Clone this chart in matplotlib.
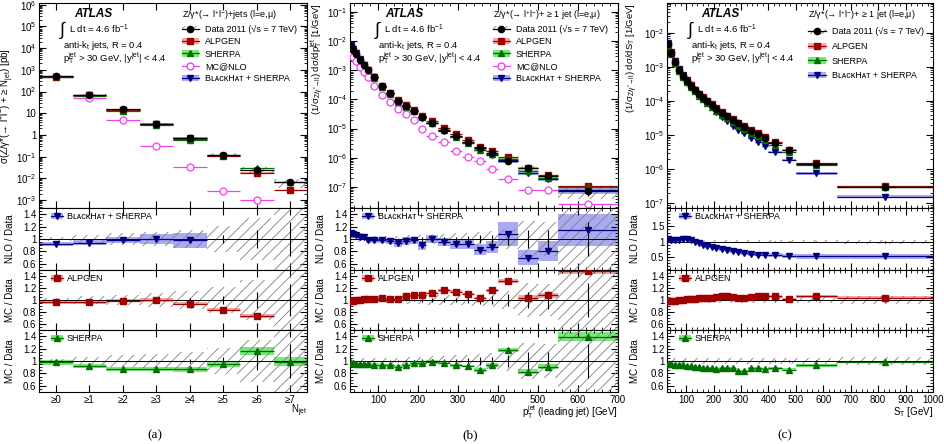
import numpy as np
import matplotlib
matplotlib.use("Agg")
import matplotlib.pyplot as plt
from matplotlib.patches import Patch
from matplotlib.lines import Line2D
from matplotlib.ticker import (FixedLocator, MultipleLocator, LogLocator,
                               NullFormatter, FuncFormatter, NullLocator)

plt.rcParams['font.family'] = ['Liberation Sans', 'DejaVu Sans']
plt.rcParams['mathtext.fontset'] = 'custom'
plt.rcParams['mathtext.rm'] = 'Liberation Sans'
plt.rcParams['mathtext.it'] = 'Liberation Sans:italic'
plt.rcParams['mathtext.bf'] = 'Liberation Sans:bold'
plt.rcParams['hatch.linewidth'] = 0.6
plt.rcParams['font.size'] = 7

# ---------------- (a) inclusive jet multiplicity
njet_labels = ['≥0', '≥1', '≥2', '≥3', '≥4', '≥5', '≥6', '≥7']
njet_data = [510, 70, 15, 3.2, 0.70, 0.123, 0.025, 0.0066]
njet_syst = [0.04, 0.07, 0.09, 0.11, 0.14, 0.20, 0.30, 0.45]
njet_stat = [0.002, 0.004, 0.008, 0.02, 0.04, 0.07, 0.14, 0.27]
njet_alpgen = [0.96, 0.96, 0.99, 1.00, 0.94, 0.84, 0.73, 0.45]
njet_alpgen_unc = [0.03, 0.03, 0.03, 0.03, 0.03, 0.03, 0.03, 0.03]
njet_sherpa = [0.98, 0.92, 0.87, 0.87, 0.87, 0.95, 1.16, 0.99]
njet_sherpa_unc = [0.04, 0.03, 0.03, 0.03, 0.04, 0.04, 0.06, 0.07]
njet_bh = [0.92, 0.94, 0.98, 1.00, 0.98]
njet_bh_unc = [0.03, 0.04, 0.05, 0.08, 0.12]
njet_mcnlo = [np.nan, 49, 4.9, 0.32, 0.033, 0.0027, 0.0010, np.nan]
njet_mcnlo_err = [0, 0.02, 0.03, 0.05, 0.10, 0.25, 0.40, 0]

# ---------------- (b) leading jet pT
pt_edges = [30, 35, 40, 50, 60, 70, 80, 100, 120, 140, 160, 180, 200, 220,
            250, 280, 310, 340, 370, 400, 450, 500, 550, 700]
pt_data = [6.8e-3, 4.8e-3, 3.6e-3, 2.3e-3, 1.5e-3, 1.0e-3, 5.8e-4, 2.8e-4,
           1.6e-4, 9.1e-5, 6.0e-5, 4.1e-5, 2.5e-5, 1.6e-5, 9.0e-6, 5.6e-6,
           3.6e-6, 2.2e-6, 1.45e-6, 7.8e-7, 4.3e-7, 2.3e-7, 7.0e-8]
pt_syst = [0.05, 0.05, 0.05, 0.05, 0.05, 0.05, 0.05, 0.05, 0.05, 0.05, 0.06,
           0.06, 0.06, 0.07, 0.07, 0.08, 0.08, 0.09, 0.10, 0.12, 0.25, 0.22, 0.45]
pt_stat = [0.003, 0.003, 0.003, 0.004, 0.005, 0.006, 0.006, 0.008, 0.01,
           0.013, 0.016, 0.02, 0.025, 0.03, 0.035, 0.04, 0.05, 0.06, 0.07,
           0.10, 0.14, 0.15, 0.28]
pt_bh = [1.09, 1.08, 1.06, 1.04, 1.03, 0.98, 0.98, 0.98, 0.97, 0.93, 0.97,
         0.98, 0.90, 1.00, 0.95, 0.92, 0.92, 0.83, 0.87, 1.08, 0.70, 0.81, 1.15]
pt_bh_unc = [0.05, 0.05, 0.05, 0.05, 0.05, 0.05, 0.05, 0.05, 0.05, 0.06, 0.06,
             0.06, 0.07, 0.07, 0.07, 0.08, 0.08, 0.09, 0.10, 0.20, 0.12, 0.16, 0.26]
pt_alpgen = [0.98, 0.99, 1.00, 1.00, 1.01, 1.02, 1.02, 1.04, 1.02, 1.02, 1.06,
             1.08, 1.08, 1.12, 1.16, 1.14, 1.10, 1.03, 1.16, 1.32, 1.04, 1.08, 1.48]
pt_alpgen_unc = [0.02] * 19 + [0.03, 0.04, 0.04, 0.05]
pt_sherpa = [0.96, 0.96, 0.95, 0.95, 0.95, 0.95, 0.94, 0.93, 0.93, 0.91, 0.93,
             0.96, 0.96, 0.99, 0.97, 0.93, 0.92, 0.86, 0.94, 1.18, 0.83, 0.91, 1.39]
pt_sherpa_unc = [0.02] * 17 + [0.03, 0.03, 0.03, 0.04, 0.04, 0.07]
pt_mcnlo = [4.0e-3, 2.9e-3, 2.1e-3, 1.3e-3, 8.5e-4, 5.8e-4, 2.9e-4, 1.45e-4,
            8.0e-5, 4.7e-5, 3.2e-5, 1.9e-5, 1.0e-5, 5.5e-6, 3.6e-6, 1.7e-6,
            1.05e-6, 7.7e-7, 4.2e-7, 1.9e-7, 8.1e-8, 7.7e-8, 2.7e-8]
pt_mcnlo_err = [0.02] * 13 + [0.05, 0.06, 0.08, 0.1, 0.1, 0.12, 0.15, 0.2, 0.2, 0.25]

# ---------------- (c) ST
st_edges = [30, 40, 50, 65, 80, 95, 110, 125, 140, 155, 170, 185, 200, 220,
            240, 260, 280, 300, 325, 350, 375, 400, 450, 500, 650, 1000]
st_data = [4.6e-3, 2.5e-3, 1.4e-3, 8.2e-4, 5.4e-4, 3.8e-4, 2.8e-4, 2.1e-4,
           1.6e-4, 1.25e-4, 9.8e-5, 7.8e-5, 5.9e-5, 4.5e-5, 3.5e-5, 2.75e-5,
           2.2e-5, 1.75e-5, 1.35e-5, 1.05e-5, 8.3e-6, 5.8e-6, 3.6e-6, 1.45e-6, 3.0e-7]
st_syst = [0.045] * 21 + [0.05, 0.05, 0.05, 0.06]
st_stat = [0.003] * 12 + [0.005] * 9 + [0.01, 0.015, 0.02, 0.04]
st_bh = [1.08, 1.07, 1.05, 1.06, 1.08, 1.08, 1.05, 1.00, 0.95, 0.90, 0.86, 0.83,
         0.79, 0.75, 0.73, 0.69, 0.66, 0.64, 0.60, 0.58, 0.58, 0.56, 0.53, 0.52, 0.52]
st_bh_unc = [0.05] * 12 + [0.06] * 9 + [0.07, 0.07, 0.08, 0.09]
st_alpgen = [0.98, 0.99, 0.99, 1.00, 1.00, 1.01, 1.02, 1.02, 1.03, 1.03, 1.04,
             1.04, 1.05, 1.06, 1.06, 1.05, 1.04, 1.04, 1.05, 1.07, 1.07, 1.06,
             1.01, 1.06, 1.04]
st_alpgen_unc = [0.02] * 25
st_sherpa = [0.95, 0.95, 0.94, 0.94, 0.93, 0.92, 0.92, 0.91, 0.90, 0.89, 0.89,
             0.88, 0.87, 0.88, 0.88, 0.88, 0.84, 0.84, 0.88, 0.88, 0.87, 0.88,
             0.86, 0.93, 0.98]
st_sherpa_unc = [0.02] * 25

GREY = '#808080'
ALP_C, ALP_B = '#a00000', '#f4a8a8'
SHE_C, SHE_B = '#007000', '#78e878'
BH_C, BH_B = '#000080', '#aaaaf2'
NLO_C = '#f040f0'
BH_LABEL = 'BʟᴀᴄᴋHᴀᴛ + SHERPA'

W_PX, H_PX = 944, 444
fig = plt.figure(figsize=(W_PX / 100, H_PX / 100), dpi=100)

col_left = [39, 350, 667]
col_width = [268, 268, 266]
row_edges = [3, 208, 270, 330, 392]


def make_axes(c):
    axs = []
    for r in range(4):
        top, bot = row_edges[r], row_edges[r + 1]
        rect = [col_left[c] / W_PX, 1 - bot / H_PX, col_width[c] / W_PX, (bot - top) / H_PX]
        ax = fig.add_axes(rect, sharex=axs[0] if axs else None)
        ax.tick_params(which='both', direction='in', top=True, right=True, labelsize=7, pad=2)
        ax.tick_params(which='major', length=5)
        ax.tick_params(which='minor', length=2.5)
        for s in ax.spines.values():
            s.set_linewidth(0.8)
        axs.append(ax)
    return axs


def band(ax, x, w, lo, hi, **kw):
    lo = np.asarray(lo, float)
    hi = np.asarray(hi, float)
    ax.bar(x, hi - lo, width=w, bottom=lo, align='center', linewidth=0, **kw)


def hatch(ax, x, w, lo, hi):
    lo = np.asarray(lo, float)
    hi = np.asarray(hi, float)
    ax.bar(x, hi - lo, width=w, bottom=lo, facecolor='none', edgecolor=GREY,
           hatch='///', linewidth=0, zorder=2.5)


def logfmt(v, p):
    e = int(round(np.log10(v)))
    if e == 0:
        return '1'
    if e == 1:
        return '10'
    return r'$\mathregular{10^{%d}}$' % e


def main_panel(ax, x, w, data, syst, stat, mcs, mcnlo=None, mcnlo_err=None):
    data = np.asarray(data)
    hatch(ax, x, w, data * (1 - np.asarray(syst)), data * (1 + np.asarray(syst)))
    for ratio, unc, c, bc, mk in mcs:
        n = len(ratio)
        y = data[:n] * np.asarray(ratio)
        u = np.asarray(unc)
        band(ax, x[:n], w[:n], y * (1 - u), y * (1 + u), color=bc, zorder=2)
        ax.errorbar(x[:n], y, xerr=w[:n] / 2, fmt=mk, color=c, ms=4.5,
                    elinewidth=0.9, capsize=0, zorder=3)
    if mcnlo is not None:
        m = np.asarray(mcnlo)
        ax.errorbar(x, m, xerr=w / 2, yerr=m * np.asarray(mcnlo_err), fmt='o',
                    color=NLO_C, mfc='white', ms=5, mew=0.9, elinewidth=0.9,
                    capsize=0, zorder=3)
    ax.errorbar(x, data, xerr=w / 2, yerr=data * np.asarray(stat), fmt='o',
                color='k', ms=4.5, elinewidth=0.9, capsize=0, zorder=5)
    ax.set_yscale('log')
    ax.yaxis.set_major_locator(LogLocator(base=10, numticks=30))
    ax.yaxis.set_minor_locator(LogLocator(base=10, subs=np.arange(2, 10), numticks=30))
    ax.yaxis.set_minor_formatter(NullFormatter())
    ax.yaxis.set_major_formatter(FuncFormatter(logfmt))
    ax.tick_params(labelbottom=False)


def ratio_panel(ax, x, w, r, u, syst, stat, c, bc, mk, label):
    n = len(r)
    r = np.asarray(r)
    u = np.asarray(u)
    band(ax, x[:n], w[:n], r - u, r + u, color=bc, zorder=1)
    hatch(ax, x, w, 1 - np.asarray(syst), 1 + np.asarray(syst))
    ax.axhline(1, color='k', lw=0.7, zorder=2.6)
    ax.errorbar(x, np.ones(len(x)), yerr=stat, fmt='none', ecolor='k',
                elinewidth=0.8, zorder=2.7)
    ax.errorbar(x[:n], r, xerr=w[:n] / 2, fmt=mk, color=c, ms=4.5,
                elinewidth=0.9, capsize=0, zorder=3)
    h = (Patch(facecolor=bc), Line2D([], [], color=c, marker=mk, ms=4.5, lw=0.9))
    ax.legend([h], [label], loc='upper left', bbox_to_anchor=(0.03, 0.99),
              frameon=False, fontsize=6.5, handlelength=1.4, handletextpad=0.4,
              borderaxespad=0.2, borderpad=0.2)
    ax.yaxis.set_major_formatter(FuncFormatter(lambda v, p: f'{v:g}'))
    ax.tick_params(labelbottom=False)


def ratio_ylim(ax, nlo_c=False):
    if nlo_c:
        ax.set_ylim(0.08, 2.1)
        ax.yaxis.set_major_locator(FixedLocator([0.5, 1.0, 1.5]))
        ax.yaxis.set_minor_locator(MultipleLocator(0.1))
    else:
        ax.set_ylim(0.5, 1.5)
        ax.yaxis.set_major_locator(FixedLocator([0.6, 0.8, 1.0, 1.2, 1.4]))
        ax.yaxis.set_minor_locator(MultipleLocator(0.05))


def atlas_text(ax, x0):
    tr = ax.transAxes
    ax.text(0.13, 0.945, 'ATLAS', transform=tr, fontsize=8.5, fontweight='bold',
            style='italic', va='center')
    ax.text(x0 - 0.01, 0.868, '∫', transform=tr, fontsize=13, va='center')
    ax.text(x0 + 0.025, 0.872, 'L dt = 4.6 fb$^{-1}$', transform=tr, fontsize=6.8, va='center')
    ax.text(x0, 0.794, 'anti-k$_{\\mathregular{t}}$ jets, R = 0.4', transform=tr,
            fontsize=6.8, va='center')
    ax.text(x0, 0.731, '$\\mathregular{p_{T}^{jet}}$ > 30 GeV, |$\\mathregular{y^{jet}}$| < 4.4',
            transform=tr, fontsize=6.8, va='center')


def main_legend(ax, title, with_mcnlo, xa, spacing):
    hs = [(Patch(facecolor='none', edgecolor=GREY, hatch='///', lw=0),
           Line2D([], [], color='k', marker='o', ms=4.5, lw=0.9)),
          (Patch(facecolor=ALP_B), Line2D([], [], color=ALP_C, marker='s', ms=4.5, lw=0.9)),
          (Patch(facecolor=SHE_B), Line2D([], [], color=SHE_C, marker='^', ms=4.5, lw=0.9))]
    ls = ['Data 2011 (√s = 7 TeV)', 'ALPGEN', 'SHERPA']
    if with_mcnlo:
        hs.append(Line2D([], [], color=NLO_C, marker='o', mfc='white', ms=5, lw=0.9))
        ls.append('MC@NLO')
    hs.append((Patch(facecolor=BH_B), Line2D([], [], color=BH_C, marker='v', ms=4.5, lw=0.9)))
    ls.append(BH_LABEL)
    ax.legend(hs, ls, title=title, loc='upper left', bbox_to_anchor=(xa, 0.985),
              frameon=False, fontsize=6.5, title_fontsize=6.5, alignment='left',
              handlelength=1.9, handletextpad=0.7, labelspacing=spacing,
              borderaxespad=0.0, borderpad=0.2)


# ---------------- column (a)
axa = make_axes(0)
xa = np.arange(len(njet_data), dtype=float)
wa = np.ones(len(njet_data))
main_panel(axa[0], xa, wa, njet_data, njet_syst, njet_stat,
           [(njet_bh, njet_bh_unc, BH_C, BH_B, 'v'),
            (njet_alpgen, njet_alpgen_unc, ALP_C, ALP_B, 's'),
            (njet_sherpa, njet_sherpa_unc, SHE_C, SHE_B, '^')],
           njet_mcnlo, njet_mcnlo_err)
axa[0].set_ylim(4.3e-4, 1.2e6)
axa[0].set_xlim(-0.5, 7.5)
axa[0].xaxis.set_major_locator(FixedLocator(xa))
axa[0].xaxis.set_minor_locator(NullLocator())
njet_tot = np.sqrt(np.asarray(njet_syst) ** 2 + np.asarray(njet_stat) ** 2)
ratio_panel(axa[1], xa, wa, njet_bh, njet_bh_unc, njet_tot, njet_stat, BH_C, BH_B, 'v', BH_LABEL)
ratio_panel(axa[2], xa, wa, njet_alpgen, njet_alpgen_unc, njet_tot, njet_stat, ALP_C, ALP_B, 's', 'ALPGEN')
ratio_panel(axa[3], xa, wa, njet_sherpa, njet_sherpa_unc, njet_tot, njet_stat, SHE_C, SHE_B, '^', 'SHERPA')
for ax in axa[1:]:
    ratio_ylim(ax)
axa[3].tick_params(labelbottom=True)
axa[3].set_xticklabels(njet_labels)
axa[0].set_ylabel('σ(Z/γ*(→ l$^{+}$l$^{-}$) + ≥ N$_{\\mathregular{jet}}$) [pb]', fontsize=7)
axa[0].yaxis.set_label_coords(-0.085, 0.5)
atlas_text(axa[0], 0.088)
main_legend(axa[0], 'Z/γ*(→ l$^{+}$l$^{-}$)+jets (l=e,μ)', True, 0.525, 0.36)

# ---------------- column (b)
axb = make_axes(1)
eb = np.asarray(pt_edges, float)
xb = (eb[:-1] + eb[1:]) / 2
wb = np.diff(eb)
main_panel(axb[0], xb, wb, pt_data, pt_syst, pt_stat,
           [(pt_bh, pt_bh_unc, BH_C, BH_B, 'v'),
            (pt_alpgen, pt_alpgen_unc, ALP_C, ALP_B, 's'),
            (pt_sherpa, pt_sherpa_unc, SHE_C, SHE_B, '^')],
           pt_mcnlo, pt_mcnlo_err)
axb[0].set_ylim(1.9e-8, 0.2)
axb[0].set_xlim(30, 700)
pt_tot = np.sqrt(np.asarray(pt_syst) ** 2 + np.asarray(pt_stat) ** 2)
ratio_panel(axb[1], xb, wb, pt_bh, pt_bh_unc, pt_tot, pt_stat, BH_C, BH_B, 'v', BH_LABEL)
ratio_panel(axb[2], xb, wb, pt_alpgen, pt_alpgen_unc, pt_tot, pt_stat, ALP_C, ALP_B, 's', 'ALPGEN')
ratio_panel(axb[3], xb, wb, pt_sherpa, pt_sherpa_unc, pt_tot, pt_stat, SHE_C, SHE_B, '^', 'SHERPA')
for ax in axb[1:]:
    ratio_ylim(ax)
axb[0].xaxis.set_major_locator(MultipleLocator(100))
axb[0].xaxis.set_minor_locator(MultipleLocator(20))
axb[3].tick_params(labelbottom=True)
axb[0].set_ylabel('(1/σ$_{\\mathregular{Z/γ^{*}→ll}}$) dσ/d$\\mathregular{p_{T}^{jet}}$ [1/GeV]',
                  fontsize=6.8, loc='top')
axb[0].yaxis.set_label_coords(-0.09, 1.0)
atlas_text(axb[0], 0.103)
main_legend(axb[0], 'Z/γ*(→ l$^{+}$l$^{-}$)+ ≥ 1 jet (l=e,μ)', True, 0.525, 0.36)

# ---------------- column (c)
axc = make_axes(2)
ec = np.asarray(st_edges, float)
xc = (ec[:-1] + ec[1:]) / 2
wc = np.diff(ec)
main_panel(axc[0], xc, wc, st_data, st_syst, st_stat,
           [(st_bh, st_bh_unc, BH_C, BH_B, 'v'),
            (st_alpgen, st_alpgen_unc, ALP_C, ALP_B, 's'),
            (st_sherpa, st_sherpa_unc, SHE_C, SHE_B, '^')])
axc[0].set_ylim(7.3e-8, 0.074)
axc[0].set_xlim(30, 1000)
st_tot = np.sqrt(np.asarray(st_syst) ** 2 + np.asarray(st_stat) ** 2)
ratio_panel(axc[1], xc, wc, st_bh, st_bh_unc, st_tot, st_stat, BH_C, BH_B, 'v', BH_LABEL)
ratio_panel(axc[2], xc, wc, st_alpgen, st_alpgen_unc, st_tot, st_stat, ALP_C, ALP_B, 's', 'ALPGEN')
ratio_panel(axc[3], xc, wc, st_sherpa, st_sherpa_unc, st_tot, st_stat, SHE_C, SHE_B, '^', 'SHERPA')
ratio_ylim(axc[1], nlo_c=True)
ratio_ylim(axc[2])
ratio_ylim(axc[3])
axc[0].xaxis.set_major_locator(MultipleLocator(100))
axc[0].xaxis.set_minor_locator(MultipleLocator(20))
axc[3].tick_params(labelbottom=True)
axc[0].set_ylabel('(1/σ$_{\\mathregular{Z/γ^{*}→ll}}$) dσ/dS$_{\\mathregular{T}}$ [1/GeV]',
                  fontsize=6.8, loc='top')
axc[0].yaxis.set_label_coords(-0.1, 1.0)
atlas_text(axc[0], 0.089)
main_legend(axc[0], 'Z/γ*(→ l$^{+}$l$^{-}$)+ ≥ 1 jet (l=e,μ)', False, 0.525, 0.62)

# ratio axis titles
for axs, xl in ((axa, -0.088), (axb, -0.09), (axc, -0.1)):
    for ax, lab in zip(axs[1:], ['NLO / Data', 'MC / Data', 'MC / Data']):
        ax.set_ylabel(lab, fontsize=7)
        ax.yaxis.set_label_coords(xl, 0.5)

# x axis titles
fig.text(307 / W_PX, 1 - 411 / H_PX, 'N$_{\\mathregular{jet}}$', ha='right', va='center', fontsize=7)
fig.text(618 / W_PX, 1 - 412 / H_PX, '$\\mathregular{p_{T}^{jet}}$ (leading jet) [GeV]',
         ha='right', va='center', fontsize=7)
fig.text(933 / W_PX, 1 - 412 / H_PX, 'S$_{\\mathregular{T}}$ [GeV]', ha='right', va='center', fontsize=7)

# sub-captions
for xpx, lab in ((155, '(a)'), (470, '(b)'), (785, '(c)')):
    fig.text(xpx / W_PX, 1 - 435 / H_PX, lab, ha='center', va='center',
             fontsize=9.5, family='Liberation Serif')

fig.savefig('out.png', dpi=100)
